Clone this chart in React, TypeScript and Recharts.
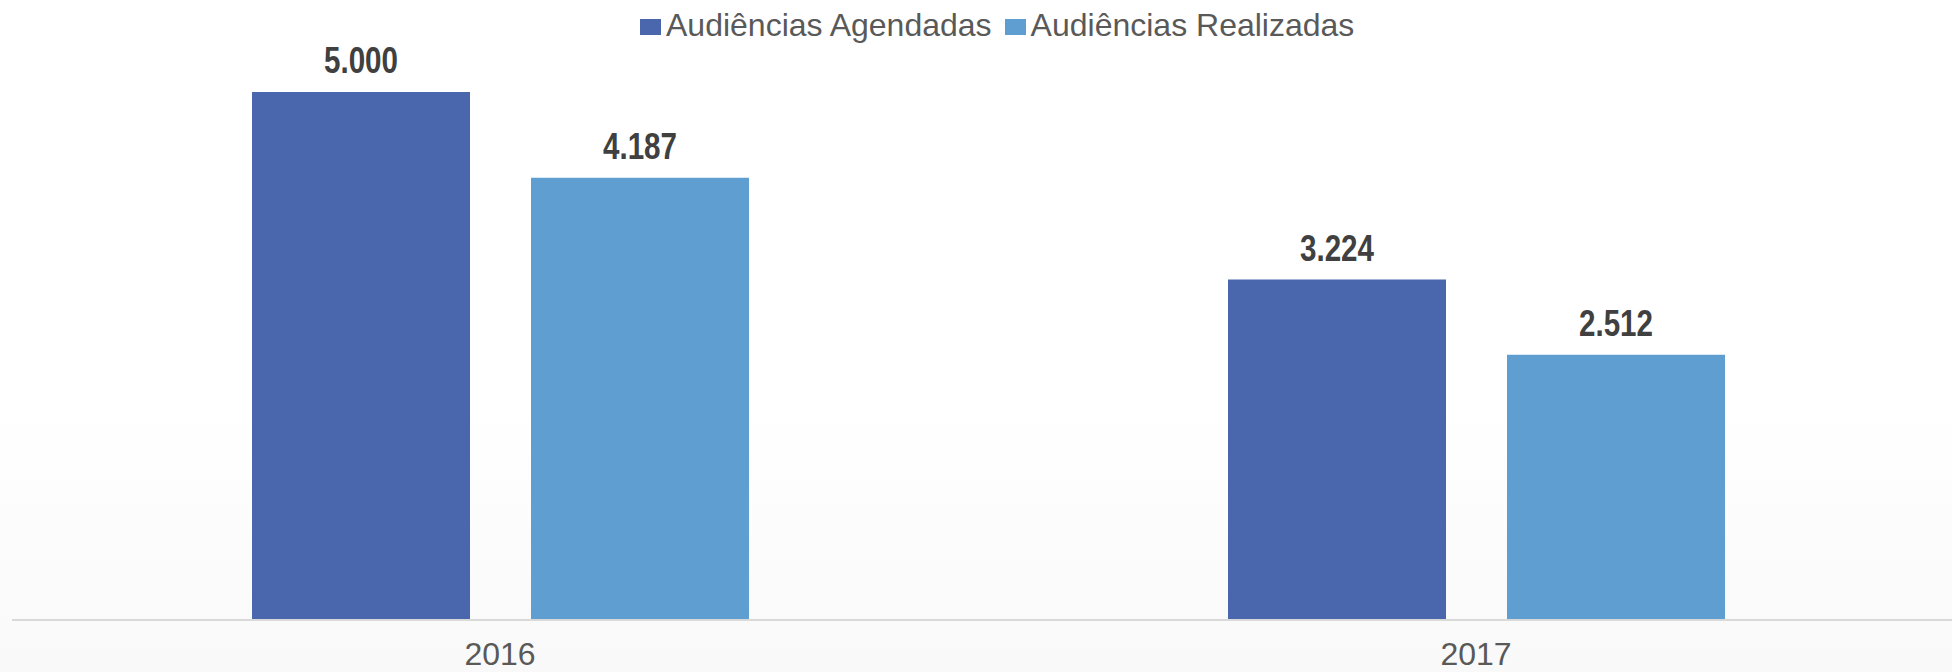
import React from 'react';
import { BarChart, Bar, XAxis, YAxis, Legend, LabelList } from 'recharts';

// values
const years = ['2016', '2017'];
const agendadas = [5000, 3224];
const realizadas = [4187, 2512];

const series = [
  { key: 'agendadas', name: 'Audiências Agendadas', color: '#4A66AC' },
  { key: 'realizadas', name: 'Audiências Realizadas', color: '#5F9ED1' },
];

const data = years.map((year, i) => ({
  year,
  agendadas: agendadas[i],
  realizadas: realizadas[i],
}));

const FONT = '"Liberation Sans", Arial, sans-serif';
const TEXT = '#595959';

// pt-BR thousands separator
const fmt = (v: number) => String(v).replace(/\B(?=(\d{3})+(?!\d))/g, '.');

const ValueLabel = (props: any) => {
  const { x, y, width, value } = props;
  return (
    <text
      x={x + width / 2}
      y={y - 19}
      textAnchor="middle"
      fontSize={36}
      fontWeight="bold"
      fontFamily={'"Liberation Sans Narrow", ' + FONT}
      fill="#404040"
      textLength={74}
      lengthAdjust="spacingAndGlyphs"
    >
      {fmt(value)}
    </text>
  );
};

const LegendContent = () => (
  <div
    style={{
      height: 50,
      display: 'flex',
      alignItems: 'center',
      paddingLeft: 640,
      boxSizing: 'border-box',
      fontFamily: FONT,
      fontSize: 32,
      color: TEXT,
    }}
  >
    {series.map((s) => (
      <div key={s.key} style={{ display: 'flex', alignItems: 'center', marginRight: 13 }}>
        <span style={{ display: 'inline-block', width: 21, height: 16, background: s.color, marginRight: 5, marginTop: 3 }} />
        <span>{s.name}</span>
      </div>
    ))}
  </div>
);

export default function App() {
  return (
    <div
      style={{
        position: 'absolute',
        left: 0,
        top: 0,
        width: 1952,
        height: 672,
        overflow: 'hidden',
        background: 'linear-gradient(to bottom, #ffffff 0%, #ffffff 60%, #f9f9f9 100%)',
      }}
    >
      <BarChart
        width={1970}
        height={672}
        data={data}
        margin={{ top: 42, right: 6, bottom: 0, left: 12 }}
        barSize={218}
        barGap={61}
      >
        <Legend
          verticalAlign="top"
          content={<LegendContent />}
          wrapperStyle={{ top: 0, left: 0, width: 1970, height: 50 }}
        />
        <XAxis
          dataKey="year"
          height={52}
          axisLine={{ stroke: '#d9d9d9', strokeWidth: 2 }}
          tickLine={false}
          tickSize={0}
          tickMargin={22}
          tick={{ fontSize: 32, fill: TEXT, fontFamily: FONT }}
        />
        <YAxis hide domain={[0, 5000]} />
        {series.map((s) => (
          <Bar key={s.key} dataKey={s.key} name={s.name} fill={s.color} isAnimationActive={false}>
            <LabelList dataKey={s.key} content={<ValueLabel />} />
          </Bar>
        ))}
      </BarChart>
    </div>
  );
}
